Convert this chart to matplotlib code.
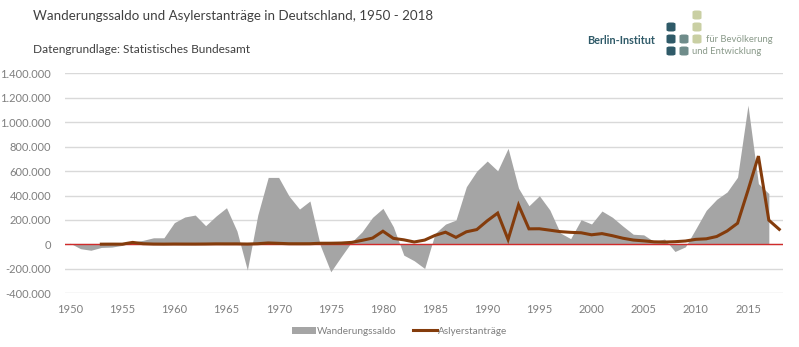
import numpy as np
import matplotlib
matplotlib.use("Agg")
import matplotlib.pyplot as plt
from matplotlib.patches import Patch, FancyBboxPatch
from matplotlib.lines import Line2D
from matplotlib.ticker import FuncFormatter

plt.rcParams['font.family'] = ['Lato', 'DejaVu Sans']

# Wanderungssaldo 1950-2017 (Personen)
saldo_years = list(range(1950, 2018))
saldo = [10000, -35000, -48000, -25000, -22000, -8000, 20000, 33000, 54000, 54000,
         178000, 224000, 240000, 153000, 232000, 300000, 110000, -210000, 240000, 548000,
         548000, 395000, 289000, 355000, -10000, -224000, -100000, 20000, 103000, 221000,
         295000, 144000, -88000, -134000, -197000, 90000, 166000, 199000, 472000, 600000,
         682000, 602000, 786000, 460000, 316000, 398000, 282000, 94000, 47000, 202000,
         167000, 273000, 222000, 150000, 83000, 78000, 23000, 44000, -58000, -20000,
         128000, 279000, 369000, 429000, 550000, 1139000, 497000, 416000]

# Asylerstanträge 1953-2018
asyl_years = list(range(1953, 2019))
asyl = [1900, 2200, 1900, 16300, 5600, 2800, 2300,
        3000, 2700, 2600, 3200, 4500, 4300, 4400, 3000, 5600, 11700,
        8600, 5400, 5300, 5600, 9400, 9600, 11100, 16400, 33100, 51500,
        107800, 49400, 37400, 19700, 35300, 73800, 99700, 57400, 103100, 121300,
        193100, 256100, 40000, 322600, 127200, 127900, 116400, 104400, 98600, 95100,
        78600, 88300, 71100, 50600, 35600, 28900, 21000, 19200, 22100, 27600,
        41300, 45700, 64500, 109600, 173100, 441900, 722400, 198300, 123000]

y_ticks = [-400000, -200000, 0, 200000, 400000, 600000, 800000, 1000000, 1200000, 1400000]
x_ticks = [1950, 1955, 1960, 1965, 1970, 1975, 1980, 1985, 1990, 1995, 2000, 2005, 2010, 2015]

grey_fill = '#a5a5a5'
brown = '#843c0c'
tick_col = '#7f7f7f'

fig = plt.figure(figsize=(7.99, 3.47), dpi=100)
ax = fig.add_axes([0.0814, 0.1548, 0.8986, 0.634])

ax.fill_between(saldo_years, saldo, 0, color=grey_fill, lw=0, zorder=2)
ax.axhline(0, color='#d02b2b', lw=1.0, zorder=3)
ax.plot(asyl_years, asyl, color=brown, lw=2.2, zorder=4, solid_joinstyle='miter')

ax.set_xlim(1949.52, 2018.36)
ax.set_ylim(-400000, 1400000)
ax.set_yticks(y_ticks)
ax.set_xticks(x_ticks)
ax.yaxis.set_major_formatter(FuncFormatter(lambda v, p: f"{v:,.0f}".replace(",", ".")))
ax.grid(axis='y', color='#d9d9d9', lw=1.0, zorder=0)
ax.set_axisbelow(True)
for s in ax.spines.values():
    s.set_visible(False)
ax.tick_params(length=0, labelsize=8, colors=tick_col, pad=8)
ax.tick_params(axis='y', pad=10)

# Titel
fig.text(0.041, 0.953, 'Wanderungssaldo und Asylerstanträge in Deutschland, 1950 - 2018',
         fontsize=9.6, color='#404040', va='center')
fig.text(0.041, 0.856, 'Datengrundlage: Statistisches Bundesamt',
         fontsize=8.6, color='#404040', va='center')

# Logo
W, H = 799, 347
def px(x, y):
    return x / W, 1 - y / H

dark = '#2f5a68'
mid = '#6f8c8a'
light = '#c9cfa3'
for cx, cy, c in [(697, 15, light), (697, 27, light), (697, 39, light),
                  (671, 27, dark), (671, 39, dark), (671, 51, dark),
                  (684, 39, mid), (684, 51, mid)]:
    x0, y0 = px(cx - 4.5, cy + 4.5)
    fig.patches.append(FancyBboxPatch((x0, y0), 9 / W, 9 / H,
                                      boxstyle='round,pad=0,rounding_size=0.004',
                                      transform=fig.transFigure, fc=c, ec='none'))
fig.text(*px(587, 40), 'Berlin-Institut', fontsize=7.8, fontweight='bold', color=dark, va='center')
fig.text(*px(706, 40), 'für Bevölkerung', fontsize=6.8, color='#8a9a8a', va='center')
fig.text(*px(692, 52), 'und Entwicklung', fontsize=6.8, color='#8a9a8a', va='center')

handles = [Patch(facecolor=grey_fill, edgecolor='none'),
           Line2D([], [], color=brown, lw=2.2)]
fig.legend(handles, ['Wanderungssaldo', 'Aslyerstanträge'], loc='center',
           bbox_to_anchor=(0.5, 0.045), ncol=2, frameon=False, fontsize=7.2,
           labelcolor=tick_col, handlelength=2.4, handletextpad=0.15, columnspacing=1.6)

fig.savefig('out.png', dpi=100)
